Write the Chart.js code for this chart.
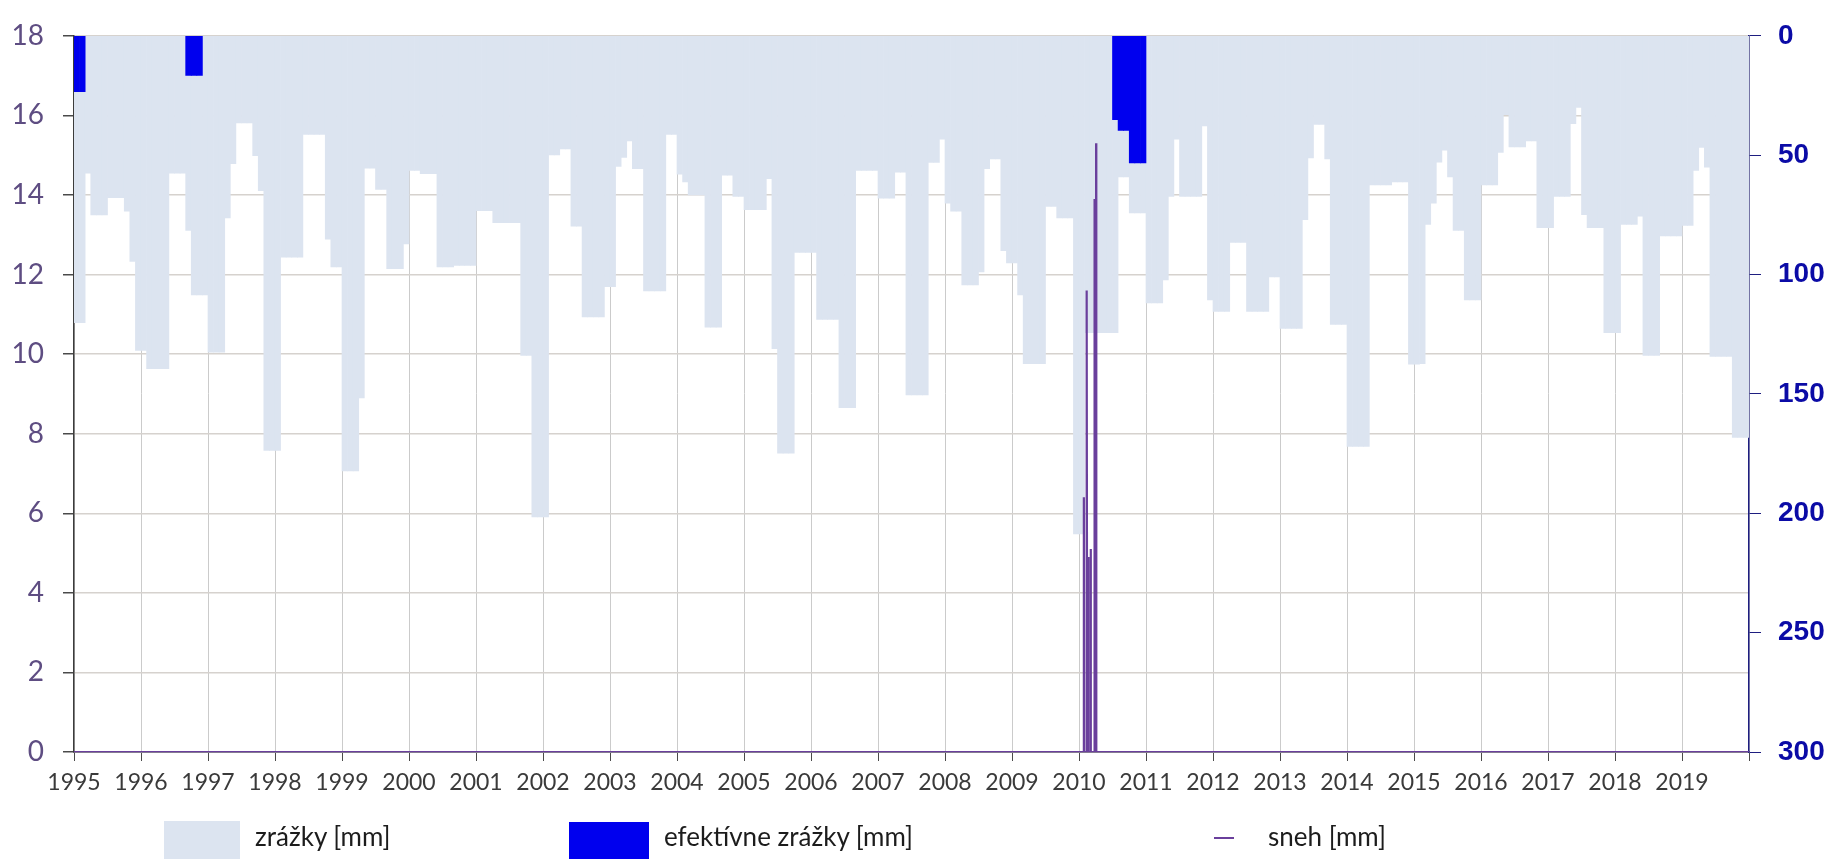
<!DOCTYPE html>
<html>
<head>
<meta charset="utf-8">
<script src="https://cdn.jsdelivr.net/npm/chart.js@4.4.1/dist/chart.umd.min.js"></script>
<style>
  html, body { margin: 0; padding: 0; background: #ffffff; }
  #wrap { position: relative; width: 1833px; height: 859px; overflow: hidden; }
  #c { position: absolute; left: 0; top: 0; }
  .lg-text { position: absolute; font-family: Lato, "Noto Sans", sans-serif; font-size: 26px; line-height: 30px; color: #1c1c1c; white-space: nowrap; }
  .lg-box { position: absolute; }
</style>
</head>
<body>
<div id="wrap">
  <canvas id="c" width="1833" height="859"></canvas>
  <div id="legend"></div>
</div>
<script>
// Monthly precipitation totals [mm], January 1995 – December 2019 (one row per year)
const precipitation = [
  120.2, 120.2, 57.5, 75.0, 75.0, 75.0, 67.8, 67.8, 67.8, 73.5, 94.5, 131.8,        // 1995
  131.8, 139.4, 139.4, 139.4, 139.4, 57.5, 57.5, 57.5, 81.5, 108.5, 108.5, 108.5,   // 1996
  132.5, 132.5, 132.5, 76.3, 53.6, 36.5, 36.5, 36.5, 50.2, 64.9, 173.7, 173.7,      // 1997
  173.7, 92.7, 92.7, 92.7, 92.7, 41.3, 41.3, 41.3, 41.3, 85.2, 96.8, 96.8,          // 1998
  182.3, 182.3, 182.3, 151.7, 55.4, 55.4, 64.3, 64.3, 97.5, 97.5, 97.5, 87.2,       // 1999
  56.4, 56.4, 57.7, 57.7, 57.7, 96.8, 96.8, 96.8, 96.2, 96.2, 96.2, 96.2,           // 2000
  73.2, 73.2, 73.2, 78.3, 78.3, 78.3, 78.3, 78.3, 133.9, 133.9, 201.5, 201.5,       // 2001
  201.5, 49.9, 49.9, 47.4, 47.4, 79.7, 79.7, 117.8, 117.8, 117.8, 117.8, 105.1,     // 2002
  105.1, 54.7, 50.9, 44.0, 55.7, 55.7, 106.9, 106.9, 106.9, 106.9, 41.3, 41.3,      // 2003
  58.0, 61.2, 66.7, 66.7, 66.7, 122.0, 122.0, 122.0, 58.4, 58.4, 67.3, 67.3,        // 2004
  72.8, 72.8, 72.8, 72.8, 59.8, 131.1, 174.8, 174.8, 174.8, 90.7, 90.7, 90.7,       // 2005
  90.7, 118.8, 118.8, 118.8, 118.8, 155.8, 155.8, 155.8, 56.4, 56.4, 56.4, 56.4,    // 2006
  68.0, 68.0, 68.0, 57.1, 57.1, 150.4, 150.4, 150.4, 150.4, 53.0, 53.0, 43.3,       // 2007
  70.1, 73.5, 73.5, 104.4, 104.4, 104.4, 98.9, 55.7, 51.6, 51.6, 90.0, 95.1,        // 2008
  95.1, 108.5, 137.3, 137.3, 137.3, 137.3, 71.5, 71.5, 76.3, 76.3, 76.3, 208.6,     // 2009
  208.6, 124.3, 124.3, 124.3, 124.3, 124.3, 124.3, 59.1, 59.1, 74.2, 74.2, 74.2,    // 2010
  111.9, 111.9, 111.9, 102.3, 67.3, 43.3, 67.3, 67.3, 67.3, 67.3, 37.8, 110.6,      // 2011
  115.4, 115.4, 115.4, 86.6, 86.6, 86.6, 115.4, 115.4, 115.4, 115.4, 101.0, 101.0,  // 2012
  122.6, 122.6, 122.6, 122.6, 77.0, 51.2, 37.1, 37.1, 51.6, 120.9, 120.9, 120.9,    // 2013
  172.0, 172.0, 172.0, 172.0, 62.5, 62.5, 62.5, 62.5, 61.2, 61.2, 61.2, 137.5,      // 2014
  137.5, 137.3, 79.0, 70.1, 52.9, 47.9, 59.1, 81.5, 81.5, 110.6, 110.6, 110.6,      // 2015
  62.5, 62.5, 62.5, 48.8, 33.0, 46.5, 46.5, 46.5, 44.0, 44.0, 80.4, 80.4,           // 2016
  80.4, 67.3, 67.3, 67.3, 36.8, 30.0, 74.9, 80.4, 80.4, 80.4, 124.3, 124.3,         // 2017
  124.3, 79.0, 79.0, 79.0, 75.6, 133.9, 133.9, 133.9, 83.8, 83.8, 83.8, 83.8,       // 2018
  79.4, 79.4, 56.4, 46.8, 55.0, 134.3, 134.3, 134.3, 134.3, 168.2, 168.2, 168.2     // 2019
];

// Effective precipitation [mm] – only the months where it occurred
const effectiveMonths = ['1995-01', '1995-02', '1996-09', '1996-10', '1996-11',
                         '2010-07', '2010-08', '2010-09', '2010-10', '2010-11', '2010-12'];
const effectiveValues = [23.4, 23.4, 16.6, 16.6, 16.6,
                         35.1, 39.6, 39.6, 53.2, 53.2, 53.2];

// Snow [mm] – daily readings of the 2010 winter (other days zero)
const snowDates  = ['2010-01-27', '2010-01-28', '2010-01-29', '2010-02-09', '2010-02-10', '2010-02-11',
                    '2010-02-12', '2010-02-13', '2010-02-14', '2010-02-19', '2010-02-20', '2010-02-21',
                    '2010-03-03', '2010-03-04', '2010-03-05', '2010-03-24', '2010-03-25', '2010-03-26',
                    '2010-04-02', '2010-04-03', '2010-04-04'];
const snowValues = [0, 6.4, 0, 0, 7.9, 0,
                    0, 11.6, 0, 0, 4.9, 0,
                    0, 5.1, 0, 0, 13.9, 0,
                    0, 15.3, 0];

// Axis tick labels
const yearLabels = ['1995', '1996', '1997', '1998', '1999', '2000', '2001', '2002', '2003',
                    '2004', '2005', '2006', '2007', '2008', '2009', '2010', '2011', '2012',
                    '2013', '2014', '2015', '2016', '2017', '2018', '2019'];
const seriesNames = ['zrážky [mm]', 'efektívne zrážky [mm]', 'sneh [mm]'];

const FIRST_YEAR = 1995;
const MONTHS = precipitation.length;

// month index (fractional) on the time axis
function monthPos(y, m, d) {
  const dim = new Date(y, m, 0).getDate();
  return (y - FIRST_YEAR) * 12 + (m - 1) + (d - 1) / dim;
}

const precipData = precipitation.map((v, i) => ({ x: i + 0.5, y: v }));
const effectiveData = effectiveMonths.map((s, i) => {
  const [y, m] = s.split('-').map(Number);
  return { x: (y - FIRST_YEAR) * 12 + (m - 1) + 0.5, y: effectiveValues[i] };
});
const snowData = [{ x: 0, y: 0 }]
  .concat(snowDates.map((s, i) => {
    const [y, m, d] = s.split('-').map(Number);
    return { x: monthPos(y, m, d), y: snowValues[i] };
  }))
  .concat([{ x: MONTHS, y: 0 }]);

const COLORS = {
  precip: '#dce4f0',
  effective: '#0000ee',
  snow: '#6a3f9c'
};

const chart = new Chart(document.getElementById('c'), {
  type: 'bar',
  data: {
    datasets: [
      {
        label: seriesNames[0],
        data: precipData,
        yAxisID: 'y1',
        backgroundColor: COLORS.precip,
        borderWidth: 0,
        barPercentage: 1.0,
        categoryPercentage: 1.0,
        order: 3
      },
      {
        label: seriesNames[1],
        data: effectiveData,
        yAxisID: 'y1',
        backgroundColor: COLORS.effective,
        borderWidth: 0,
        barPercentage: 1.0,
        categoryPercentage: 1.0,
        grouped: false,
        order: 2
      },
      {
        type: 'line',
        label: seriesNames[2],
        data: snowData,
        yAxisID: 'y',
        borderColor: COLORS.snow,
        backgroundColor: COLORS.snow,
        borderWidth: 2.2,
        pointRadius: 0,
        tension: 0,
        order: 1
      }
    ]
  },
  options: {
    responsive: false,
    animation: false,
    devicePixelRatio: 1,
    layout: { padding: { top: 23, left: 0, right: 0, bottom: 0 } },
    plugins: {
      legend: { display: false },
      tooltip: { enabled: false }
    },
    scales: {
      x: {
        type: 'linear',
        min: 0,
        max: MONTHS,
        offset: false,
        afterFit: (s) => { s.height = 107; },
        grid: {
          offset: false,
          color: '#cbcbcb',
          lineWidth: 1,
          drawTicks: true,
          tickLength: 9,
          tickColor: '#4a4a4a'
        },
        border: { display: true, color: '#857a92', width: 2 },
        ticks: {
          stepSize: 12,
          autoSkip: false,
          maxRotation: 0,
          padding: 8,
          color: '#3a3a3a',
          font: { family: 'Lato', size: 23 },
          callback: (v) => yearLabels[v / 12] ?? ''
        }
      },
      y: {
        type: 'linear',
        position: 'left',
        min: 0,
        max: 18,
        afterFit: (s) => { s.width = 74; },
        grid: {
          color: '#d6d2ce',
          lineWidth: 1.5,
          tickLength: 11,
          tickColor: '#4a4a4a'
        },
        border: { display: true, color: '#3c3c3c', width: 1.5 },
        ticks: {
          stepSize: 2,
          padding: 19,
          color: '#5e4d82',
          font: { family: 'Lato', size: 28 }
        }
      },
      y1: {
        type: 'linear',
        position: 'right',
        min: 0,
        max: 300,
        reverse: true,
        afterFit: (s) => { s.width = 84; },
        grid: {
          drawOnChartArea: false,
          tickLength: 12,
          tickColor: '#1e1e80'
        },
        border: { display: true, color: '#1e1e80', width: 1.5 },
        ticks: {
          stepSize: 50,
          padding: 17,
          color: '#0b0ba6',
          font: { family: 'Liberation Sans', size: 28, weight: 'bold' }
        }
      }
    }
  }
});

// Legend row under the chart, built from the chart's own legend items
const legendSlots = [
  { box: [164, 821, 76, 38], text: 255 },
  { box: [569, 822, 80, 37], text: 664 },
  { line: [1214, 837, 20], text: 1268 }
];
const legendEl = document.getElementById('legend');
const items = chart.options.plugins.legend.labels.generateLabels(chart)
  .sort((a, b) => a.datasetIndex - b.datasetIndex);
items.forEach((it, i) => {
  const slot = legendSlots[i];
  const ds = chart.data.datasets[it.datasetIndex];
  if (slot.box) {
    const b = document.createElement('div');
    b.className = 'lg-box';
    b.style.left = slot.box[0] + 'px';
    b.style.top = slot.box[1] + 'px';
    b.style.width = slot.box[2] + 'px';
    b.style.height = slot.box[3] + 'px';
    b.style.background = ds.backgroundColor;
    legendEl.appendChild(b);
  } else {
    const l = document.createElement('div');
    l.className = 'lg-box';
    l.style.left = slot.line[0] + 'px';
    l.style.top = slot.line[1] + 'px';
    l.style.width = slot.line[2] + 'px';
    l.style.height = '1.5px';
    l.style.background = ds.borderColor;
    legendEl.appendChild(l);
  }
  const t = document.createElement('div');
  t.className = 'lg-text';
  t.style.left = slot.text + 'px';
  t.style.top = '821px';
  t.textContent = it.text;
  legendEl.appendChild(t);
});
</script>
</body>
</html>
